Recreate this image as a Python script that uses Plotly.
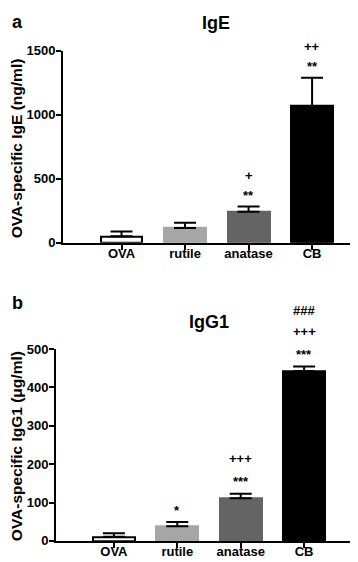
import plotly.graph_objects as go

categories = ["OVA", "rutile", "anatase", "CB"]
ige_mean = [50, 116, 243, 1067]
ige_err = [38, 41, 40, 221]
ige_sig = [[], [], ["**", "+"], ["**", "++"]]
igg1_mean = [11, 38, 111, 443]
igg1_err = [9, 11, 12, 12]
igg1_sig = [[], ["*"], ["***", "+++"], ["***", "+++", "###"]]
ige_ticks = [0, 500, 1000, 1500]
igg1_ticks = [0, 100, 200, 300, 400, 500]

colors = ["white", "#a6a6a6", "#646464", "#000000"]
lines = ["black", "#a6a6a6", "#646464", "#000000"]
W, H = 358, 562
FONT = "Liberation Sans, Arial, sans-serif"

fig = go.Figure()

panels = [
    dict(mean=ige_mean, err=ige_err, sig=ige_sig, ticks=ige_ticks, xa="x", ya="y",
         xdom=[55 / W, 353 / W], ydom=[1 - 234 / H, 1 - 36.7 / H],
         xr=[-0.921, 3.77], yr=[0, 1500], offs=[11, 31, 52]),
    dict(mean=igg1_mean, err=igg1_err, sig=igg1_sig, ticks=igg1_ticks, xa="x2", ya="y2",
         xdom=[48 / W, 350 / W], ydom=[1 - 540.3 / H, 1 - 343.3 / H],
         xr=[-0.913, 3.85], yr=[0, 500], offs=[12, 35, 56]),
]

for p in panels:
    fig.add_trace(go.Bar(
        x=categories, y=p["mean"], width=0.66,
        marker=dict(color=colors, line=dict(color=lines, width=2)),
        error_y=dict(type="data", array=p["err"], arrayminus=[0] * 4, symmetric=False,
                     color="black", thickness=2, width=11),
        xaxis=p["xa"], yaxis=p["ya"], showlegend=False,
    ))
    for i, c in enumerate(categories):
        for row, s in enumerate(p["sig"][i]):
            fig.add_annotation(
                x=c, y=p["mean"][i] + p["err"][i], xref=p["xa"], yref=p["ya"],
                yshift=p["offs"][row], text="<b>" + s + "</b>", showarrow=False,
                xanchor="center", yanchor="middle",
                font=dict(family=FONT, size=13, color="black"))

axis_common = dict(showline=True, linecolor="black", linewidth=2, ticks="outside",
                   ticklen=5, tickwidth=2, tickcolor="black", showgrid=False, zeroline=False,
                   tickfont=dict(family=FONT, size=13, color="black"))

fig.update_layout(
    width=W, height=H, margin=dict(l=0, r=0, t=0, b=0),
    plot_bgcolor="white", paper_bgcolor="white", bargap=0,
    xaxis=dict(domain=panels[0]["xdom"], range=panels[0]["xr"], anchor="y",
               type="category", tickvals=categories,
               ticktext=["<b>%s</b>" % c for c in categories],
               ticklabelstandoff=-7, **axis_common),
    yaxis=dict(domain=panels[0]["ydom"], range=panels[0]["yr"], anchor="x",
               tickvals=ige_ticks, ticktext=["<b>%d</b>" % t for t in ige_ticks],
               ticklabelstandoff=-2, **axis_common),
    xaxis2=dict(domain=panels[1]["xdom"], range=panels[1]["xr"], anchor="y2",
                type="category", tickvals=categories,
                ticktext=["<b>%s</b>" % c for c in categories],
                ticklabelstandoff=-7, **axis_common),
    yaxis2=dict(domain=panels[1]["ydom"], range=panels[1]["yr"], anchor="x2",
                tickvals=igg1_ticks, ticktext=["<b>%d</b>" % t for t in igg1_ticks],
                ticklabelstandoff=-2, **axis_common),
)

ann = [
    dict(text="<b>a</b>", x=2 / W, y=1 - 7 / H, size=18, xanchor="left", angle=0),
    dict(text="<b>b</b>", x=2 / W, y=1 - 296 / H, size=18, xanchor="left", angle=0),
    dict(text="<b>IgE</b>", x=208 / W, y=1 - 8 / H, size=18, xanchor="center", angle=0),
    dict(text="<b>IgG1</b>", x=201 / W, y=1 - 315 / H, size=18, xanchor="center", angle=0),
    dict(text="<b>OVA-specific IgE (ng/ml)</b>", x=8 / W, y=1 - 137 / H, size=15.5,
         xanchor="center", angle=-90),
    dict(text="<b>OVA-specific IgG1 (μg/ml)</b>", x=8 / W, y=1 - 443 / H, size=15.5,
         xanchor="center", angle=-90),
]
for a in ann:
    fig.add_annotation(text=a["text"], x=a["x"], y=a["y"], xref="paper", yref="paper",
                       xanchor=a["xanchor"], yanchor="middle", showarrow=False,
                       textangle=a["angle"],
                       font=dict(family=FONT, size=a["size"], color="black"))

fig.write_html("out.html")
